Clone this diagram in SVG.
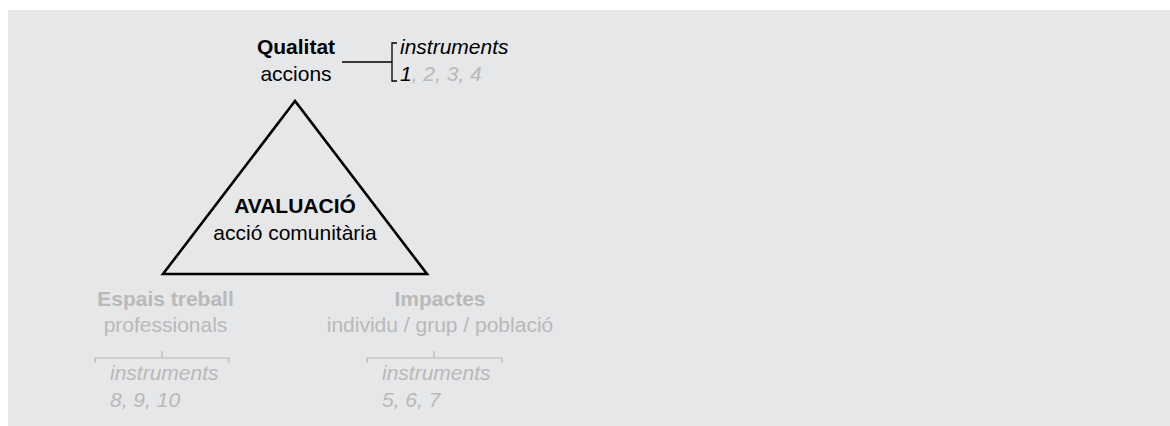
<svg xmlns="http://www.w3.org/2000/svg" width="1170" height="426" viewBox="0 0 1170 426">
<style>
text{font-family:"Liberation Sans",Arial,sans-serif;font-size:21px}
.b{font-weight:bold}
.i{font-style:italic}
.k{fill:#000}
.g{fill:#b9b9b9}
.gl{fill:none;stroke:#b9b9b9;stroke-width:1.2}
.kl{fill:none;stroke:#000;stroke-width:1.3}
</style>
<rect x="8" y="10" width="1162" height="416" fill="#e6e7e8"/>
<g id="evaluacio">
<polygon points="295,101 163,274 427,274" fill="none" stroke="#000" stroke-width="2.6" stroke-linejoin="miter"/>
<text x="295" y="213" text-anchor="middle" class="b k">AVALUACIÓ</text>
<text x="295" y="240" text-anchor="middle" class="k">acció comunitària</text>
</g>
<g id="qualitat">
<text x="296" y="54" text-anchor="middle" class="b k">Qualitat</text>
<text x="296" y="81" text-anchor="middle" class="k">accions</text>
</g>
<g id="qualitat-instruments">
<text x="400" y="54" class="i k">instruments</text>
<text x="400" y="81" class="i"><tspan class="k">1</tspan><tspan class="g">, 2, 3, 4</tspan></text>
</g>
<g id="espais">
<text x="165.5" y="306" text-anchor="middle" class="b g">Espais treball</text>
<text x="165.5" y="332" text-anchor="middle" class="g">professionals</text>
</g>
<g id="espais-instruments">
<text x="110" y="380" class="i g">instruments</text>
<text x="110" y="407" class="i g">8, 9, 10</text>
</g>
<g id="impactes">
<text x="440" y="306" text-anchor="middle" class="b g">Impactes</text>
<text x="440" y="332" text-anchor="middle" class="g">individu / grup / població</text>
</g>
<g id="impactes-instruments">
<text x="382" y="380" class="i g">instruments</text>
<text x="382" y="407" class="i g">5, 6, 7</text>
</g>
<g id="connectors">
<path class="kl" d="M342 62H392M397 43H392V81H397"/>
<path class="gl" d="M95 363V358H229V363M162 358V351"/>
<path class="gl" d="M367 363V358H502V363M434 358V351"/>
</g>
</svg>
